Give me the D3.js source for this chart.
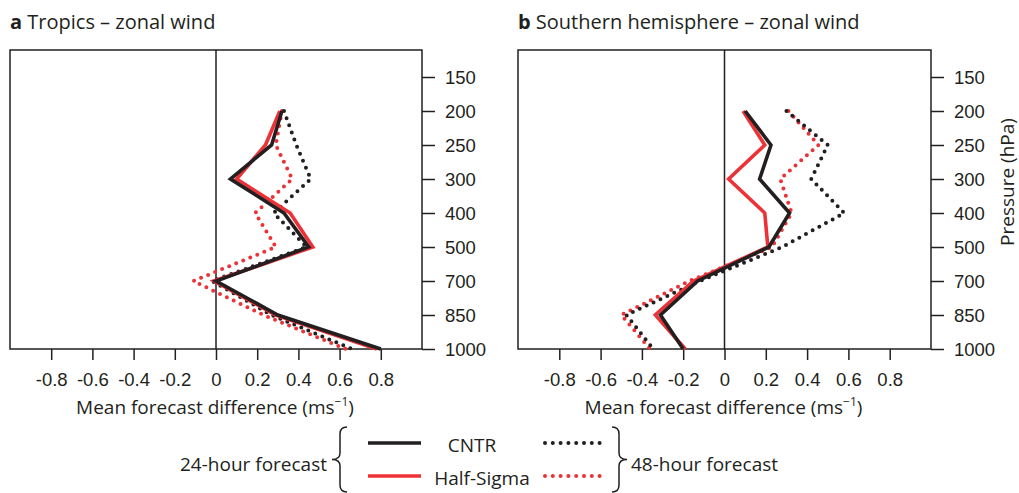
<!DOCTYPE html>
<html>
<head>
<meta charset="utf-8">
<script src="https://cdn.jsdelivr.net/npm/d3@7"></script>
<style>
body { margin: 0; background: #fff; }
svg { font-family: "Open Sans", sans-serif; }
.axis text { fill: #231f20; font-size: 18.5px; }
.axis line { stroke: #231f20; stroke-width: 1.5; }
</style>
</head>
<body>
<svg id="chart" width="1019" height="493"></svg>
<script>
// pressure levels (hPa), top to bottom
var levels = ["150", "200", "250", "300", "400", "500", "700", "850", "1000"];
var dataLevels = ["200", "250", "300", "400", "500", "700", "850", "1000"];
var xTicks = [-0.8, -0.6, -0.4, -0.2, 0, 0.2, 0.4, 0.6, 0.8];

// a: tropics
var tropicsCntr24 = [0.32, 0.27, 0.07, 0.33, 0.45, 0.0, 0.30, 0.80];
var tropicsHalf24 = [0.31, 0.24, 0.10, 0.36, 0.47, -0.01, 0.29, 0.78];
var tropicsCntr48 = [0.33, 0.39, 0.46, 0.28, 0.44, -0.02, 0.27, 0.66];
var tropicsHalf48 = [0.32, 0.29, 0.37, 0.19, 0.29, -0.11, 0.23, 0.63];

// b: southern hemisphere
var southCntr24 = [0.10, 0.225, 0.17, 0.315, 0.215, -0.13, -0.31, -0.20];
var southHalf24 = [0.09, 0.195, 0.02, 0.195, 0.21, -0.15, -0.335, -0.19];
var southCntr48 = [0.30, 0.50, 0.42, 0.58, 0.28, -0.12, -0.475, -0.345];
var southHalf48 = [0.31, 0.455, 0.27, 0.325, 0.23, -0.17, -0.50, -0.36];

var black = "#231f20";
var red = "#ec3237";

var svg = d3.select("#chart");
var plotTop = 50, plotBottom = 349;

function drawPanel(cfg) {
    var x = d3.scaleLinear().domain([-1, 1]).range([cfg.left, cfg.right]);
    var y = d3.scalePoint().domain(levels).range([77, 349]);
    var g = svg.append("g").attr("id", cfg.id);

    // frame
    g.append("rect")
        .attr("x", cfg.left).attr("y", plotTop)
        .attr("width", cfg.right - cfg.left).attr("height", plotBottom - plotTop)
        .attr("fill", "none").attr("stroke", black).attr("stroke-width", 1.5);

    g.append("line")
        .attr("x1", x(0)).attr("x2", x(0))
        .attr("y1", plotTop).attr("y2", plotBottom)
        .attr("stroke", black).attr("stroke-width", 1.5);

    var xAxis = g.append("g").attr("class", "axis")
        .attr("transform", "translate(0," + plotBottom + ")")
        .call(d3.axisBottom(x).tickValues(xTicks).tickSize(11).tickSizeOuter(0)
            .tickFormat(function (d) { return String(d); }));
    xAxis.select(".domain").remove();
    xAxis.selectAll("text").attr("y", 31).attr("dy", "0.35em");

    var yAxis = g.append("g").attr("class", "axis")
        .attr("transform", "translate(" + cfg.right + ",0)")
        .call(d3.axisRight(y).tickSize(13).tickPadding(10).tickSizeOuter(0));
    yAxis.select(".domain").remove();
    yAxis.selectAll("text").attr("dy", "0.35em");

    // title
    var t = g.append("text")
        .attr("x", cfg.left).attr("y", 29)
        .attr("font-size", 20).attr("fill", black);
    t.append("tspan").attr("font-weight", "bold").text(cfg.letter);
    t.append("tspan").text(" " + cfg.title);

    var xl = g.append("text")
        .attr("x", x(0) - 1).attr("y", 414)
        .attr("text-anchor", "middle")
        .attr("font-size", 19).attr("fill", black);
    xl.append("tspan").text("Mean forecast difference (ms");
    xl.append("tspan").attr("font-size", 12).attr("dy", -8).text("\u22121");
    xl.append("tspan").attr("dy", 8).text(")");

    var line = d3.line()
        .x(function (d) { return x(d.v); })
        .y(function (d) { return y(d.level); });

    cfg.series.forEach(function (s) {
        var pts = s.values.map(function (v, i) { return { level: dataLevels[i], v: v }; });
        var p = g.append("path")
            .datum(pts)
            .attr("d", line)
            .attr("fill", "none")
            .attr("stroke", s.color);
        if (s.dotted) {
            p.attr("stroke-width", 4).attr("stroke-linecap", "round")
                .attr("stroke-dasharray", "0,7.6");
        } else {
            p.attr("stroke-width", 3.6).attr("stroke-linejoin", "miter");
        }
    });
}

drawPanel({
    id: "panelA", left: 10, right: 422, letter: "a", title: "Tropics \u2013 zonal wind",
    series: [
        { values: tropicsHalf48, color: red, dotted: true },
        { values: tropicsCntr48, color: black, dotted: true },
        { values: tropicsHalf24, color: red, dotted: false },
        { values: tropicsCntr24, color: black, dotted: false }
    ]
});

drawPanel({
    id: "panelB", left: 518, right: 931, letter: "b", title: "Southern hemisphere \u2013 zonal wind",
    series: [
        { values: southHalf48, color: red, dotted: true },
        { values: southCntr48, color: black, dotted: true },
        { values: southHalf24, color: red, dotted: false },
        { values: southCntr24, color: black, dotted: false }
    ]
});

svg.append("text")
    .attr("transform", "translate(1014,182) rotate(-90)")
    .attr("text-anchor", "middle")
    .attr("font-size", 19).attr("fill", black)
    .text("Pressure (hPa)");

// legend
var legendNames = ["CNTR", "Half-Sigma"];
var legendColors = [black, red];
var legendLabelX = [472, 482];
var leg = svg.append("g").attr("id", "legend");

legendNames.forEach(function (name, i) {
    var ly = 443 + i * 33;
    leg.append("line")
        .attr("x1", 368).attr("x2", 421).attr("y1", ly).attr("y2", ly)
        .attr("stroke", legendColors[i]).attr("stroke-width", 3.6);
    leg.append("line")
        .attr("x1", 545).attr("x2", 600).attr("y1", ly).attr("y2", ly)
        .attr("stroke", legendColors[i]).attr("stroke-width", 4)
        .attr("stroke-linecap", "round").attr("stroke-dasharray", "0,7.8");
    leg.append("text")
        .attr("x", legendLabelX[i]).attr("y", ly + 2).attr("dy", "0.35em")
        .attr("text-anchor", "middle")
        .attr("font-size", 19).attr("fill", black)
        .text(name);
});

leg.append("text")
    .attr("x", 327).attr("y", 464).attr("dy", "0.35em")
    .attr("text-anchor", "end").attr("font-size", 19).attr("fill", black)
    .text("24-hour forecast");
leg.append("text")
    .attr("x", 631).attr("y", 464).attr("dy", "0.35em")
    .attr("font-size", 19).attr("fill", black)
    .text("48-hour forecast");

leg.append("path")
    .attr("d", "M347,427 Q340,427 340,434 L340,453 Q340,459.5 332,459.5 Q340,459.5 340,466 L340,485 Q340,492 347,492")
    .attr("fill", "none").attr("stroke", black).attr("stroke-width", 1.5);
leg.append("path")
    .attr("d", "M612,427 Q619,427 619,434 L619,453 Q619,459.5 627,459.5 Q619,459.5 619,466 L619,485 Q619,492 612,492")
    .attr("fill", "none").attr("stroke", black).attr("stroke-width", 1.5);
</script>
</body>
</html>
